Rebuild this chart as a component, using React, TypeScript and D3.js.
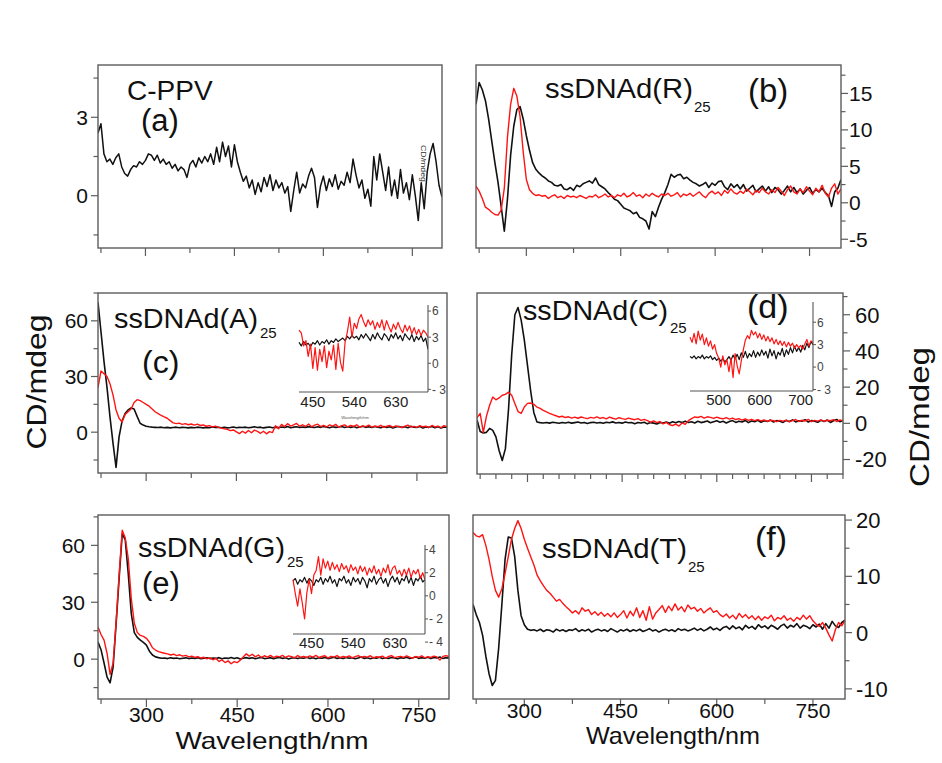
import React from "react";
import * as d3 from "d3";

// ---------- data (CD in mdeg, wavelength grid 220..800 nm, 5 nm step) ----------
const WL = d3.range(220, 801, 5);

const CPPV = [
  2.4, 2.75, 1.6, 1.3, 1.4, 1.2, 1.45, 1.6, 1.1, 0.85,
  0.75, 1.0, 1.15, 1.1, 1.3, 1.2, 1.35, 1.6, 1.55, 1.35,
  1.55, 1.25, 1.4, 1.2, 1.3, 1.05, 1.2, 0.95, 1.1, 1.0,
  0.7, 1.2, 1.35, 1.1, 1.45, 1.25, 1.5, 1.3, 1.6, 1.2,
  1.85, 1.3, 2.05, 1.5, 1.9, 1.1, 1.95, 1.3, 0.9, 0.55,
  0.75, 0.3, 0.6, 0.05, 0.5, 0.15, 0.7, 0.35, 0.8, 0.2,
  0.6, 0.3, 0.5, 0.1, 0.35, -0.6, 0.2, 0.9, 0.1, 0.45,
  0.3, 0.75, 1.05, 0.7, -0.45, 0.35, 0.75, 0.2, 0.65, 0.35,
  0.8, 0.25, 0.55, 0.4, 0.9, 0.5, 1.4, 0.8, 0.3, 0.6,
  -0.1, 0.25, -0.4, 1.5, 0.6, 1.6, 0.9, 0.2, 1.1, 0.0,
  0.6, -0.1, 1.0, 0.1, 0.5, -0.15, 0.8, 0.0, -0.95, 0.5,
  -0.5, 0.9, 1.6, 2.0, 1.3, 0.4, -0.05,
];

const R_BLACK = [
  13.5, 16.5, 15.5, 14.0, 11.5, 8.5, 5.5, 2.8, -0.5, -3.9,
  0.5, 6.5, 10.5, 12.8, 13.2, 11.5, 9.2, 7.2, 5.5, 4.6,
  4.1, 3.7, 3.4, 3.0, 2.8, 2.4, 2.3, 2.5, 1.9, 1.8,
  2.1, 1.7, 2.4, 2.2, 2.6, 2.8, 3.0, 2.7, 3.4, 2.5,
  2.2, 1.9, 1.4, 1.0, 0.5, 0.3, -0.2, -0.7, -0.9, -1.1,
  -1.5, -1.3, -2.0, -2.2, -2.5, -3.6, -1.2, -1.9, -0.6, 0.5,
  1.4, 2.5, 3.9, 3.5, 3.8, 3.9, 3.3, 3.5, 3.1, 2.8,
  2.6, 2.3, 2.5, 2.8, 2.1, 2.7, 2.4, 2.9, 3.0, 2.2,
  1.8, 2.6, 2.1, 2.5, 1.9, 2.5, 1.6, 2.0, 2.4, 1.5,
  1.9, 2.3, 1.6, 2.2, 1.4, 2.1, 1.8, 1.2, 1.7, 2.3,
  1.5, 2.1, 1.4, 1.9, 1.2, 1.7, 2.1, 1.3, 1.8, 1.5,
  2.0, 1.4, 1.0, -0.5, 1.5, 2.0, 3.2,
];
const R_RED = [
  2.3, 1.6, 0.6, -0.6, -0.9, -1.3, -1.6, -1.7, -1.0, 2.0,
  9.0, 13.5, 15.7, 14.6, 11.8, 7.0, 3.2, 1.8, 1.3, 1.0,
  1.1, 0.9, 1.0, 0.6, 0.9, 1.1, 0.7, 0.9, 0.6, 1.0,
  0.8, 0.9, 0.7, 1.0, 0.8, 0.6, 0.9, 0.8, 1.1, 0.7,
  0.9, 1.2, 0.8, 1.0, 0.7, 1.1, 0.9, 1.3, 0.8, 1.0,
  1.4, 0.9, 1.1, 0.7, 1.2, 0.9, 1.3, 1.0, 0.8, 1.2,
  1.0, 1.3, 0.9, 1.1, 1.4, 0.8, 1.2, 1.0, 1.3, 0.9,
  1.2, 1.5, 1.0, 0.7, 1.3, 1.6, 1.2, 1.5, 1.0, 1.7,
  1.3, 1.9, 1.4, 1.2, 1.6, 1.3, 1.9, 1.5, 1.1, 1.7,
  1.4, 2.0, 1.5, 1.2, 1.8, 1.4, 2.1, 1.6, 1.0, 1.8,
  2.3, 1.5, 1.2, 1.9, 1.4, 2.2, 1.6, 1.1, 2.0, 1.5,
  2.4, 1.3, 0.8, 2.0, 2.6, 1.2, 1.9,
];

const A_BLACK = [
  70, 54, 38, 24, 8, -6, -19, -2.5, 6, 10,
  12, 13, 12.5, 8.5, 4.8, 3.8, 3.2, 2.9, 2.7, 2.6,
  2.5, 2.7, 2.4, 2.6, 2.3, 2.5, 2.7, 2.4, 2.6, 2.5,
  2.3, 2.6, 2.4, 2.7, 2.5, 2.3, 2.6, 2.4, 2.8, 2.5,
  2.7, 2.4, 2.6, 2.3, 2.5, 2.8, 2.4, 2.6, 2.5, 2.7,
  2.4, 2.6, 2.9, 2.5, 2.7, 2.3, 2.6, 2.8, 2.4, 2.7,
  2.5, 2.8, 2.6, 3.0, 2.4, 2.7, 2.9, 2.5, 2.8, 2.6,
  3.0, 2.7, 2.5, 2.9, 2.6, 3.1, 2.7, 2.4, 2.9, 2.6,
  2.8, 3.1, 2.5, 2.9, 2.6, 3.0, 2.4, 2.8, 3.2, 2.6,
  2.9, 2.5, 3.1, 2.7, 2.4, 3.0, 2.6, 2.9, 2.3, 2.8,
  3.1, 2.6, 2.9, 2.4, 3.2, 2.7, 2.5, 3.0, 2.2, 2.8,
  2.6, 3.1, 2.4, 2.9, 2.2, 2.8, 2.6,
];
const A_RED = [
  24, 33, 31.5, 30, 26, 20, 12, 7.5, 5.5, 9.5,
  11, 12.5, 16, 17.5, 17, 16, 15, 14, 12.5, 11,
  10, 9, 8.2, 7.5, 6.2, 5, 4.6, 4.9, 4.2, 4.6,
  4.0, 4.4, 3.8, 4.3, 3.6, 3.9, 3.2, 3.5, 2.8, 3.3,
  2.6, 2.2, 1.8, 1.5, 0.8, 1.2, 0.2, -0.8, 0.5, -0.5,
  0.9, -0.3, 1.1, 0.4, -0.6, 0.5, -0.9, 0.3, -0.2, 3.5,
  1.8, 4.2, 3.0, 4.6, 3.3, 3.9, 4.7, 3.2, 4.0, 3.1,
  4.4, 2.9, 3.8, 4.3, 3.0, 3.7, 2.8, 3.9, 3.3, 4.2,
  2.7, 3.5, 3.9, 2.8, 3.6, 3.1, 4.0, 2.6, 3.4, 3.0,
  3.8, 2.7, 3.3, 2.9, 3.7, 2.6, 3.2, 3.6, 2.7, 3.4,
  3.0, 2.5, 3.3, 3.8, 2.7, 3.1, 2.6, 3.5, 2.9, 3.2,
  2.5, 3.6, 2.8, 3.3, 2.4, 3.5, 2.9,
];

const C_BLACK = [
  2, -4.5, -5.3, -5, -2.8, -3.9, -7.5, -15, -20.5, -14,
  8, 38, 60, 64, 57, 46, 32, 18, 6, 0.7,
  0.4, 0.2, 0.5, 0.1, 0.6, 0.3, 0.0, 0.5, 0.2, 0.6,
  0.1, 0.4, 0.7, 0.2, 0.5, -0.1, 0.4, 0.6, 0.2, 0.5,
  0.0, 0.6, 0.3, 0.8, 0.2, 0.5, 0.1, 0.7, 0.3, 0.4,
  -0.2, 0.5, 0.2, 0.6, -0.3, 0.4, 0.1, -0.4, 0.5, 0.2,
  0.7, 0.0, 0.9, 0.3, 1.0, 0.4, 1.2, 0.5, 0.9, 0.2,
  1.1, 0.4, 0.8, 1.3, 0.3, 0.9, 1.4, 0.6, 1.1, 0.2,
  1.0, 1.5, 0.5, 1.2, 0.7, 1.6, 0.4, 1.3, 0.9, 1.7,
  0.6, 1.4, 1.0, 1.8, 0.7, 1.5, 1.1, 0.5, 1.6, 1.0,
  1.9, 0.8, 1.4, 1.1, 2.0, 0.7, 1.5, 1.2, 0.6, 1.7,
  1.0, 1.8, 0.5, 1.4, 2.1, 0.9, 1.6,
];
const C_RED = [
  3, 5.5, -5, 4, 10, 14.5, 13, 14, 15.5, 16,
  17.2, 15.5, 11, 6.5, 5.5, 9, 11, 11.2, 10.5, 9,
  8.2, 7.2, 6.3, 5.5, 4.8, 4.2, 3.5, 3.9, 3.2, 3.6,
  2.9, 3.4, 2.8, 3.5, 3.0, 2.6, 3.3, 2.9, 3.6, 2.7,
  3.2, 2.5, 3.4, 2.8, 2.3, 3.1, 2.6, 2.2, 2.9, 2.4,
  2.0, 2.6, 1.6, 2.2, 1.5, 0.6, 1.3, 0.4, 1.0, -0.3,
  0.5, -0.8, -1.2, -0.4, -1.5, 0.2, -0.6, 1.5, 2.6, 3.5,
  3.2, 3.8, 2.9, 3.6, 3.3, 2.7, 3.4, 2.8, 2.5, 3.1,
  2.3, 2.9, 2.1, 2.6, 1.8, 2.4, 1.6, 2.2, 1.5, 2.0,
  1.3, 1.9, 1.1, 1.7, 1.4, 0.9, 1.6, 1.2, 1.8, 0.8,
  1.5, 2.1, 1.0, 1.7, 1.3, 2.2, 0.9, 1.6, 1.2, 1.9,
  1.1, 1.7, 1.4, 2.0, 1.0, 1.8, 1.5,
];

const G_BLACK = [
  9, 5, -2, -9.5, -12.5, -4, 19, 43, 66, 63,
  45, 24, 14, 11.5, 10, 8.8, 7.4, 4.2, 2.2, 1.2,
  0.8, 0.5, 0.6, 0.3, 0.7, 0.4, 0.6, 0.2, 0.5, 0.7,
  0.3, 0.6, 0.4, 0.8, 0.2, 0.5, 0.7, 0.3, 0.6, 0.4,
  0.8, 0.2, 0.6, 0.4, 0.9, 0.3, 0.7, 0.1, 0.5, 0.8,
  0.4, 0.7, 0.2, 0.6, 0.9, 0.3, 0.5, 0.8, 0.2, 0.6,
  0.9, 0.4, 0.7, 0.1, 0.6, 0.8, 0.3, 0.7, 0.5, 1.0,
  0.4, 0.8, 0.2, 0.7, 0.5, 0.9, 0.3, 0.6, 1.0, 0.4,
  0.7, 0.3, 0.9, 0.5, 0.8, 0.2, 0.6, 1.1, 0.4, 0.7,
  0.2, 0.8, 0.5, 1.0, 0.3, 0.7, 0.4, 0.9, 0.6, 0.2,
  0.8, 0.5, 1.0, 0.3, 0.7, 1.2, 0.4, 0.8, 0.5, 1.0,
  0.3, 0.9, 0.6, 1.1, 0.4, 0.8, 0.5,
];
const G_RED = [
  17, 13, 10, 3, -8, -2, 20, 45, 68, 64,
  53, 32, 19, 14, 12.5, 12, 11, 9, 6, 4.8,
  4.0, 3.5, 3.1, 2.8, 2.2, 2.6, 1.9, 2.3, 1.6, 2.0,
  1.2, 1.6, 0.9, 1.3, 0.6, 1.0, 0.2, 0.7, -0.3, 0.4,
  -1.2, -0.4, -1.8, -0.9, -2.4, -1.3, -1.8, -0.6, 1.2, 2.8,
  1.6, 2.6, 1.2, 2.2, 0.9, 1.8, 1.1, 2.0, 0.8, 1.6,
  1.2, 2.0, 0.9, 1.7, 1.3, 0.7, 1.9, 1.0, 1.5, 0.8,
  1.7, 1.1, 2.0, 0.9, 1.4, 1.8, 0.6, 1.5, 1.1, 1.9,
  0.8, 1.4, 1.0, 1.7, 0.7, 1.3, 1.9, 0.9, 1.5, 1.1,
  1.8, 0.7, 1.3, 1.0, 1.6, 0.6, 1.4, 1.9, 0.8, 1.2,
  1.5, 0.9, 1.7, 1.1, 0.5, 1.4, 1.0, 1.8, 0.7, 1.3,
  0.9, 1.6, 1.2, -0.5, 1.5, 1.9, 1.4,
];

const T_BLACK = [
  5, 3.2, 1.8, -0.5, -4.2, -7.3, -9.4, -8.5, -2.8, 5,
  13, 17, 16.8, 13.5, 7.5, 3, 1.4, 0.6, 0.4, 0.5,
  0.3, 0.6, 0.2, 0.5, 0.4, 0.1, 0.6, 0.3, 0.5, 0.2,
  0.5, 0.4, 0.7, 0.2, 0.5, 0.3, 0.6, 0.1, 0.4, 0.6,
  0.3, 0.5, 0.2, 0.7, 0.4, 0.1, 0.5, 0.3, 0.6, 0.2,
  0.5, 0.3, 0.6, 0.2, 0.4, 0.7, 0.3, 0.5, 0.1, 0.4,
  0.6, 0.3, 0.5, 0.2, 0.7, 0.4, 0.6, 0.3, 0.5, 0.8,
  0.4, 0.7, 0.3, 0.6, 1.0, 0.5, 0.8, 0.4, 0.9, 1.1,
  0.6, 1.2, 0.7, 1.0, 0.5, 1.3, 0.8, 1.1, 0.6, 1.4,
  0.9, 1.2, 0.7, 1.3, 1.0, 0.6, 1.2, 1.5, 0.8, 1.3,
  1.0, 1.6, 0.8, 1.3, 1.1, 0.7, 1.4, 1.0, 1.5, 0.6,
  1.6, 0.8, 2.0, 1.2, 0.9, 1.8, 2.2,
];
const T_RED = [
  17.8, 17.2, 17.0, 17.4, 15.5, 13, 10, 7.5, 6.3, 7.8,
  10.5, 13.5, 16.6, 18.5, 19.9, 18.5, 16.6, 15, 13.5, 12,
  10.2, 9.2, 8.3, 7.5, 7.0, 6.3, 5.6, 5.9, 5.2, 4.6,
  4.1, 3.5, 3.9, 3.3, 4.4, 3.8, 4.1, 3.2, 3.7, 3.1,
  3.6, 2.9, 3.4, 2.8, 3.5, 2.7, 3.2, 3.9, 2.6, 3.8,
  3.0, 4.4, 2.7, 3.9, 2.2, 4.6, 2.4, 3.5, 4.1, 4.8,
  3.6, 4.7, 3.9, 5.1, 4.0, 4.6, 3.7, 4.9, 4.2, 4.5,
  3.8, 4.3, 3.5, 4.0, 4.4, 3.6, 3.9, 3.2, 2.8, 3.3,
  2.6, 3.1, 2.4, 3.4, 2.7, 3.2, 2.5, 3.0, 2.3, 2.9,
  2.2, 2.8, 2.5, 3.1, 2.1, 2.7, 2.4, 3.0, 2.2, 2.6,
  2.0, 2.7, 2.3, 3.1, 2.4, 3.0, 2.1, 1.5, 1.1, 1.8,
  0.8, -0.4, -1.5, 0.5, 1.8, 1.2, 2.2,
];

// insets
const INSET_A_WL = d3.range(420, 701, 5);
const INSET_A_BLACK = [
  2.4, 2.0, 2.5, 2.1, 2.3, 1.9, 2.4, 2.2, 2.6, 2.1,
  2.5, 2.3, 2.7, 2.2, 2.6, 2.4, 2.8, 2.5, 2.7, 2.9,
  2.6, 3.1, 2.8, 3.2, 2.9, 3.1, 2.7, 3.3, 2.9, 3.4,
  3.0, 2.6, 3.3, 2.8, 3.5, 3.0, 2.7, 3.4, 3.1, 2.6,
  3.3, 2.9, 3.5, 2.8, 3.2, 2.6, 3.4, 3.0, 2.7, 3.3,
  2.5, 3.1, 2.7, 3.2, 2.5, 2.9, 1.6,
];
const INSET_A_RED = [
  3.8, 3.5, 2.0, 2.6, 0.8, 2.2, -0.6, 1.8, -0.8, 1.6,
  0.2, 2.0, -0.5, 1.4, 0.4, 2.1, -0.7, 2.3, 0.1, -0.9,
  2.4, 3.6, 5.3, 3.0, 4.6, 4.0, 5.1, 5.6, 4.8, 4.2,
  5.0, 4.4, 4.9, 3.9, 4.7, 4.1, 5.0, 3.8, 4.9, 4.2,
  3.6, 4.5, 3.9, 4.7, 4.0, 3.5, 4.4, 3.7, 4.3, 3.4,
  4.1, 3.3, 3.9, 3.2, 3.8, 3.5, 3.0,
];
const INSET_C_WL = d3.range(430, 731, 5);
const INSET_C_BLACK = [
  1.4, 1.2, 1.5, 1.1, 1.4, 1.2, 1.6, 1.1, 1.4, 1.2,
  1.5, 1.0, 1.3, 0.9, 1.2, 0.8, 1.1, 0.7, 1.0, 1.4,
  0.9, 1.6, 1.1, 1.7, 1.0, 1.9, 1.3, 2.1, 1.2, 1.8,
  1.4, 2.2, 1.3, 2.0, 1.5, 2.3, 1.6, 2.1, 1.2, 2.4,
  1.5, 2.2, 1.1, 2.0, 1.6, 2.5, 1.4, 2.3, 1.7, 2.6,
  1.9, 2.8, 2.1, 2.6, 2.0, 2.9, 2.3, 3.2, 2.6, 3.4,
  3.0,
];
const INSET_C_RED = [
  4.0, 3.3, 4.5, 3.1, 4.8, 3.6, 4.4, 3.0, 3.9, 2.8,
  3.5, 2.4, 3.0, 1.8, 1.2, 0.0, 1.5, 0.3, 1.0, -0.6,
  1.2, -1.4, 1.8, 0.2, -0.9, 0.8, 2.3, 3.6, 4.2, 3.8,
  4.9, 4.3, 4.7, 3.9, 4.5, 3.7, 4.3, 3.5, 4.1, 3.4,
  3.9, 3.1, 3.7, 3.0, 3.5, 2.9, 3.4, 2.7, 3.3, 2.8,
  3.2, 2.5, 3.0, 2.6, 2.9, 2.4, 3.1, 3.7, 2.8, 3.5,
  3.3,
];
const INSET_G_WL = d3.range(410, 696, 5);
const INSET_G_BLACK = [
  1.3, 1.5, 1.0, 1.4, 1.2, 1.6, 1.1, 1.5, 1.3, 0.9,
  1.4, 1.2, 1.6, 1.0, 1.5, 1.2, 1.7, 1.1, 1.4, 0.8,
  1.5, 1.3, 1.7, 1.1, 1.4, 0.9, 1.6, 1.2, 1.5, 1.0,
  1.6, 1.3, 0.7, 1.5, 1.2, 1.7, 1.0, 1.4, 1.6, 1.1,
  1.5, 0.8, 1.4, 1.7, 1.2, 1.6, 1.0, 1.5, 1.3, 1.8,
  1.1, 1.6, 0.9, 1.5, 1.3, 1.7, 1.2, 1.4,
];
const INSET_G_RED = [
  1.4, 0.2, -0.9, 0.6, -0.6, -2.0, 0.3, 1.4, 0.2, 1.8,
  2.2, 3.4, 1.8, 3.2, 2.4, 3.0, 2.2, 2.9, 2.3, 2.7,
  2.1, 2.8, 2.3, 2.6, 2.0, 2.7, 2.2, 2.5, 1.9, 2.6,
  2.1, 2.5, 1.8, 2.4, 2.0, 2.6, 1.9, 2.3, 1.7, 2.4,
  2.0, 2.7, 1.8, 2.4, 2.6, 1.9, 2.2, 1.7, 2.3, 1.8,
  2.4, 1.6, 2.2, 1.9, 2.3, 1.5, 2.0, 1.4,
];

const X_LABELS = [300, 450, 600, 750];

// ---------- styling ----------
const FONT = "'Liberation Sans', Arial, Helvetica, sans-serif";
const BLACK = "#111111";
const RED = "#ff1414";
const FRAME = "#5c5c5c";

type S = { wl: number[]; v: number[]; color: string; w: number };

function pairs(wl: number[], v: number[]): [number, number][] {
  const n = Math.min(wl.length, v.length);
  const out: [number, number][] = [];
  for (let i = 0; i < n; i++) out.push([wl[i], v[i]]);
  return out;
}

type PanelCfg = {
  id: string;
  x0: number; x1: number; y0: number; y1: number;
  yDom: [number, number];
  yStep: number;
  yLabels: number[];
  side: "left" | "right";
  labelX: number;
  labelSize: number;
  xStep: number;
  xLabelY?: number;
  series: S[];
};

function Panel({ c }: { c: PanelCfg }) {
  const x = d3.scaleLinear().domain([220, 800]).range([c.x0, c.x1]);
  const y = d3.scaleLinear().domain(c.yDom).range([c.y1, c.y0]);
  const line = d3.line<[number, number]>().x((d) => x(d[0])).y((d) => y(d[1]));
  const xt = d3.range(225, 801, c.xStep);
  const yStart = Math.ceil(c.yDom[0] / c.yStep - 1e-9) * c.yStep;
  const yt = d3.range(yStart, c.yDom[1] + 1e-6, c.yStep);
  const isLab = (v: number) => c.yLabels.some((l) => Math.abs(l - v) < 1e-6);
  const clip = `clip-${c.id}`;
  return (
    <g>
      <defs>
        <clipPath id={clip}>
          <rect x={c.x0} y={c.y0} width={c.x1 - c.x0} height={c.y1 - c.y0} />
        </clipPath>
      </defs>
      <g clipPath={`url(#${clip})`}>
        {c.series.map((s, i) => (
          <path key={i} d={line(pairs(s.wl, s.v)) || ""} fill="none" stroke={s.color}
            strokeWidth={s.w} strokeLinejoin="round" />
        ))}
      </g>
      <rect x={c.x0} y={c.y0} width={c.x1 - c.x0} height={c.y1 - c.y0} fill="none"
        stroke={FRAME} strokeWidth={1.4} />
      {xt.map((v) => {
        const major = v % 150 === 0;
        return <line key={"x" + v} x1={x(v)} x2={x(v)} y1={c.y1} y2={c.y1 + (major ? 8 : 5)}
          stroke={FRAME} strokeWidth={1.2} />;
      })}
      {yt.map((v) => {
        const L = isLab(v) ? 7 : 4.5;
        const xa = c.side === "left" ? c.x0 : c.x1;
        const xb = c.side === "left" ? c.x0 - L : c.x1 + L;
        return <line key={"y" + v} x1={xa} x2={xb} y1={y(v)} y2={y(v)} stroke={FRAME} strokeWidth={1.2} />;
      })}
      {c.yLabels.map((v) => (
        <text key={"yl" + v} x={c.labelX} y={y(v)} dy="0.36em" fontFamily={FONT}
          fontSize={c.labelSize} textAnchor={c.side === "left" ? "end" : "start"} fill="#111">
          {v < 0 ? "-" + Math.abs(v) : String(v)}
        </text>
      ))}
      {c.xLabelY !== undefined && X_LABELS.map((v) => (
        <text key={"xl" + v} x={x(v)} y={c.xLabelY} fontFamily={FONT} fontSize={21}
          textAnchor="middle" fill="#111">{v}</text>
      ))}
    </g>
  );
}

type InsetCfg = {
  id: string;
  x0: number; x1: number; y0: number; y1: number;
  xDom: [number, number]; yDom: [number, number];
  xTicks: number[]; xLabelY: number; xSize: number;
  yTicks: [number, string][]; ySize: number;
  series: S[];
};

function Inset({ c }: { c: InsetCfg }) {
  const x = d3.scaleLinear().domain(c.xDom).range([c.x0, c.x1]);
  const y = d3.scaleLinear().domain(c.yDom).range([c.y1, c.y0]);
  const line = d3.line<[number, number]>().x((d) => x(d[0])).y((d) => y(d[1]));
  const clip = `iclip-${c.id}`;
  return (
    <g>
      <defs>
        <clipPath id={clip}>
          <rect x={c.x0 - 2} y={c.y0 - 4} width={c.x1 - c.x0 + 2} height={c.y1 - c.y0 + 4} />
        </clipPath>
      </defs>
      <g clipPath={`url(#${clip})`}>
        {c.series.map((s, i) => (
          <path key={i} d={line(pairs(s.wl, s.v)) || ""} fill="none" stroke={s.color}
            strokeWidth={s.w} strokeLinejoin="round" />
        ))}
      </g>
      <line x1={c.x0} x2={c.x1} y1={c.y1} y2={c.y1} stroke="#555" strokeWidth={1.1} />
      <line x1={c.x1} x2={c.x1} y1={c.y0} y2={c.y1} stroke="#555" strokeWidth={1.1} />
      {c.yTicks.map(([v]) => (
        <line key={"t" + v} x1={c.x1} x2={c.x1 + 3} y1={y(v)} y2={y(v)} stroke="#555" strokeWidth={1} />
      ))}
      {c.yTicks.map(([v, t]) => (
        <text key={"l" + v} x={c.x1 + 4} y={y(v)} dy="0.36em" fontFamily={FONT} fontSize={c.ySize}
          fill="#444">{t}</text>
      ))}
      {c.xTicks.map((v) => (
        <text key={"x" + v} x={x(v)} y={c.xLabelY} fontFamily={FONT} fontSize={c.xSize}
          textAnchor="middle" fill="#222">{v}</text>
      ))}
    </g>
  );
}

const bk = (wl: number[], v: number[], w = 1.6): S => ({ wl, v, color: BLACK, w });
const rd = (wl: number[], v: number[], w = 1.4): S => ({ wl, v, color: RED, w });

const PANELS: PanelCfg[] = [
  { id: "a", x0: 98, x1: 442, y0: 65, y1: 248, yDom: [-2, 5], yStep: 1.5, yLabels: [0, 3],
    side: "left", labelX: 88, labelSize: 21, xStep: 75, series: [bk(WL, CPPV, 1.5)] },
  { id: "b", x0: 476, x1: 841, y0: 65, y1: 248, yDom: [-6.2, 18.9], yStep: 2.5,
    yLabels: [-5, 0, 5, 10, 15], side: "right", labelX: 849, labelSize: 21, xStep: 75,
    series: [bk(WL, R_BLACK), rd(WL, R_RED)] },
  { id: "c", x0: 98, x1: 447, y0: 293, y1: 473, yDom: [-22, 75], yStep: 15, yLabels: [0, 30, 60],
    side: "left", labelX: 88, labelSize: 21, xStep: 75, series: [bk(WL, A_BLACK), rd(WL, A_RED)] },
  { id: "d", x0: 477, x1: 843, y0: 293, y1: 474, yDom: [-28, 72], yStep: 10,
    yLabels: [-20, 0, 20, 40, 60], side: "right", labelX: 855, labelSize: 22, xStep: 25,
    series: [bk(WL, C_BLACK), rd(WL, C_RED)] },
  { id: "e", x0: 98, x1: 449, y0: 515, y1: 699, yDom: [-21, 76], yStep: 15, yLabels: [0, 30, 60],
    side: "left", labelX: 85, labelSize: 21, xStep: 75, xLabelY: 722,
    series: [bk(WL, G_BLACK), rd(WL, G_RED)] },
  { id: "f", x0: 473, x1: 845, y0: 515, y1: 699, yDom: [-11.8, 20.9], yStep: 5,
    yLabels: [-10, 0, 10, 20], side: "right", labelX: 856, labelSize: 22, xStep: 75, xLabelY: 718,
    series: [bk(WL, T_BLACK), rd(WL, T_RED)] },
];

const INSETS: InsetCfg[] = [
  { id: "c", x0: 299, x1: 428, y0: 305, y1: 392, xDom: [420, 700], yDom: [-3.3, 6.7],
    xTicks: [450, 540, 630], xLabelY: 407, xSize: 15,
    yTicks: [[6, "6"], [3, "3"], [0, "0"], [-3, "- 3"]], ySize: 12,
    series: [bk(INSET_A_WL, INSET_A_BLACK, 1.2), rd(INSET_A_WL, INSET_A_RED, 1.2)] },
  { id: "d", x0: 690, x1: 813, y0: 302, y1: 391, xDom: [430, 730], yDom: [-3.2, 8.7],
    xTicks: [500, 600, 700], xLabelY: 405, xSize: 15,
    yTicks: [[6, "6"], [3, "3"], [0, "0"], [-3, "- 3"]], ySize: 12,
    series: [bk(INSET_C_WL, INSET_C_BLACK, 1.2), rd(INSET_C_WL, INSET_C_RED, 1.2)] },
  { id: "e", x0: 293, x1: 425, y0: 545, y1: 634, xDom: [410, 695], yDom: [-3.3, 4.4],
    xTicks: [450, 540, 630], xLabelY: 648, xSize: 15,
    yTicks: [[4, "4"], [2, "2"], [0, "0"], [-2, "- 2"], [-4, "- 4"]], ySize: 12,
    series: [bk(INSET_G_WL, INSET_G_BLACK, 1.2), rd(INSET_G_WL, INSET_G_RED, 1.2)] },
];

type Title = { main: string; mx: number; my: number; mlen?: number; msize: number;
  sub?: string; sx?: number; sy?: number; tag: string; tx: number; ty: number; tsize: number };

const TITLES: Title[] = [
  { main: "C-PPV", mx: 127, my: 100, msize: 28, tag: "(a)", tx: 141, ty: 131, tsize: 31 },
  { main: "ssDNAd(R)", mx: 545, my: 98, mlen: 148, msize: 27, sub: "25", sx: 694, sy: 112,
    tag: "(b)", tx: 748, ty: 102, tsize: 33 },
  { main: "ssDNAd(A)", mx: 114, my: 328, mlen: 144, msize: 27, sub: "25", sx: 260, sy: 338,
    tag: "(c)", tx: 142, ty: 373, tsize: 32 },
  { main: "ssDNAd(C)", mx: 523, my: 320, mlen: 145, msize: 27, sub: "25", sx: 670, sy: 333,
    tag: "(d)", tx: 747, ty: 318, tsize: 34 },
  { main: "ssDNAd(G)", mx: 138, my: 557, mlen: 147, msize: 27, sub: "25", sx: 287, sy: 567,
    tag: "(e)", tx: 142, ty: 594, tsize: 31 },
  { main: "ssDNAd(T)", mx: 542, my: 558, mlen: 145, msize: 27, sub: "25", sx: 688, sy: 572,
    tag: "(f)", tx: 755, ty: 550, tsize: 34 },
];

export default function App() {
  return (
    <div>
      <style>{`body{margin:0;background:#fff}`}</style>
      <svg width={942} height={763} viewBox="0 0 942 763" style={{ display: "block" }}>
        <rect x={0} y={0} width={942} height={763} fill="#fff" />
        {PANELS.map((p) => <Panel key={p.id} c={p} />)}
        {INSETS.map((p) => <Inset key={p.id} c={p} />)}
        {TITLES.map((t, i) => (
          <g key={i} fontFamily={FONT} fill="#111">
            <text x={t.mx} y={t.my} fontSize={t.msize}
              {...(t.mlen ? { textLength: t.mlen, lengthAdjust: "spacingAndGlyphs" } : {})}>{t.main}</text>
            {t.sub && <text x={t.sx} y={t.sy} fontSize={15}>{t.sub}</text>}
            <text x={t.tx} y={t.ty} fontSize={t.tsize}>{t.tag}</text>
          </g>
        ))}
        {/* tiny stray labels from the original figure */}
        <text transform="translate(421,145) rotate(90)" fontFamily={FONT} fontSize={7}
          textLength={37} lengthAdjust="spacingAndGlyphs" fill="#333">CD/mdeg</text>
        <text x={355} y={419} fontFamily={FONT} fontSize={4} textAnchor="middle" fill="#555">Wavelength/nm</text>
        {/* axis titles */}
        <text transform="translate(46,382) rotate(-90)" fontFamily={FONT} fontSize={28}
          textAnchor="middle" textLength={135} lengthAdjust="spacingAndGlyphs" fill="#111">CD/mdeg</text>
        <text transform="translate(929,417) rotate(-90)" fontFamily={FONT} fontSize={28}
          textAnchor="middle" textLength={140} lengthAdjust="spacingAndGlyphs" fill="#111">CD/mdeg</text>
        <text x={272} y={749} fontFamily={FONT} fontSize={24} textAnchor="middle"
          textLength={193} lengthAdjust="spacingAndGlyphs" fill="#111">Wavelength/nm</text>
        <text x={673} y={744} fontFamily={FONT} fontSize={24} textAnchor="middle"
          textLength={174} lengthAdjust="spacingAndGlyphs" fill="#111">Wavelength/nm</text>
      </svg>
    </div>
  );
}
